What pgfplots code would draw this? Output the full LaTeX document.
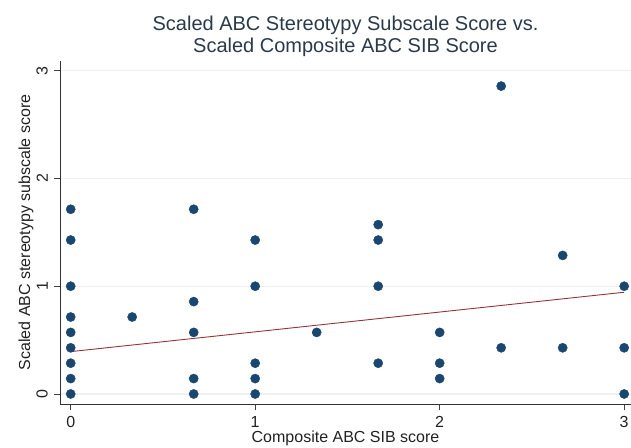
\documentclass[border=0pt]{standalone}
\usepackage{fontspec}
\setmainfont{Liberation Sans}
\usepackage{pgfplots}
\pgfplotsset{compat=1.18}
\definecolor{stnavy}{HTML}{1A476F}
\definecolor{stmaroon}{HTML}{90353B}
\definecolor{gridc}{HTML}{EEF1F2}
\definecolor{titlec}{HTML}{2B3A4A}
\definecolor{txtc}{HTML}{222222}
\begin{document}
\begin{tikzpicture}
\useasboundingbox (-60bp,-44bp) rectangle (571bp,404bp);
\begin{axis}[
  at={(0,0)}, anchor=south west,
  scale only axis, width=571bp, height=343bp,
  xmin=-0.058, xmax=3.037, ymin=-0.093, ymax=3.09,
  axis lines=left, axis line style={-, black!80, line width=0.7bp},
  xtick={0,1,2,3}, ytick={0,1,2,3},
  tick align=outside, major tick length=6bp,
  tick style={black!75, line width=0.7bp},
  ymajorgrids, grid style={gridc, line width=1.2bp},
  /pgf/number format/assume math mode=true,
  ticklabel style={font=\fontsize{16bp}{18bp}\selectfont, text=txtc},
  xticklabel style={anchor=north, inner sep=0pt},
  yticklabel style={rotate=90, anchor=south, inner sep=0pt},
  xticklabel shift=6bp, yticklabel shift=6bp,
  xlabel={Composite ABC SIB score},
  ylabel={Scaled ABC stereotypy subscale score},
  label style={font=\fontsize{16bp}{18bp}\selectfont, text=txtc},
  xlabel style={at={(axis description cs:0.5,0)}, anchor=base, yshift=-38bp, inner sep=0pt},
  ylabel style={at={([xshift=-30bp]axis description cs:0,0.5)}, anchor=base, inner sep=0pt},
  clip=false,
]
\addplot[only marks, mark=*, mark size=4.6bp, mark options={fill=stnavy, draw=stnavy}] coordinates {
  (0,0) (0,0.1429) (0,0.2857) (0,0.4286) (0,0.5714) (0,0.7143) (0,1) (0,1.4286) (0,1.7143)
  (0.3333,0.7143)
  (0.6667,0) (0.6667,0.1429) (0.6667,0.5714) (0.6667,0.8571) (0.6667,1.7143)
  (1,0) (1,0.1429) (1,0.2857) (1,1) (1,1.4286)
  (1.3333,0.5714)
  (1.6667,0.2857) (1.6667,1) (1.6667,1.4286) (1.6667,1.5714)
  (2,0.1429) (2,0.2857) (2,0.5714)
  (2.3333,0.4286) (2.3333,2.8571)
  (2.6667,0.4286) (2.6667,1.2857)
  (3,0) (3,0.4286) (3,1)
};
\addplot[stmaroon, line width=0.9bp] coordinates {(0,0.393) (3,0.944)};
\end{axis}
\node[font=\fontsize{20bp}{22bp}\selectfont, text=titlec, align=center, anchor=north, inner sep=0pt] at (285.5bp,388bp)
  {Scaled ABC Stereotypy Subscale Score vs.\\Scaled Composite ABC SIB Score};
\end{tikzpicture}
\end{document}
